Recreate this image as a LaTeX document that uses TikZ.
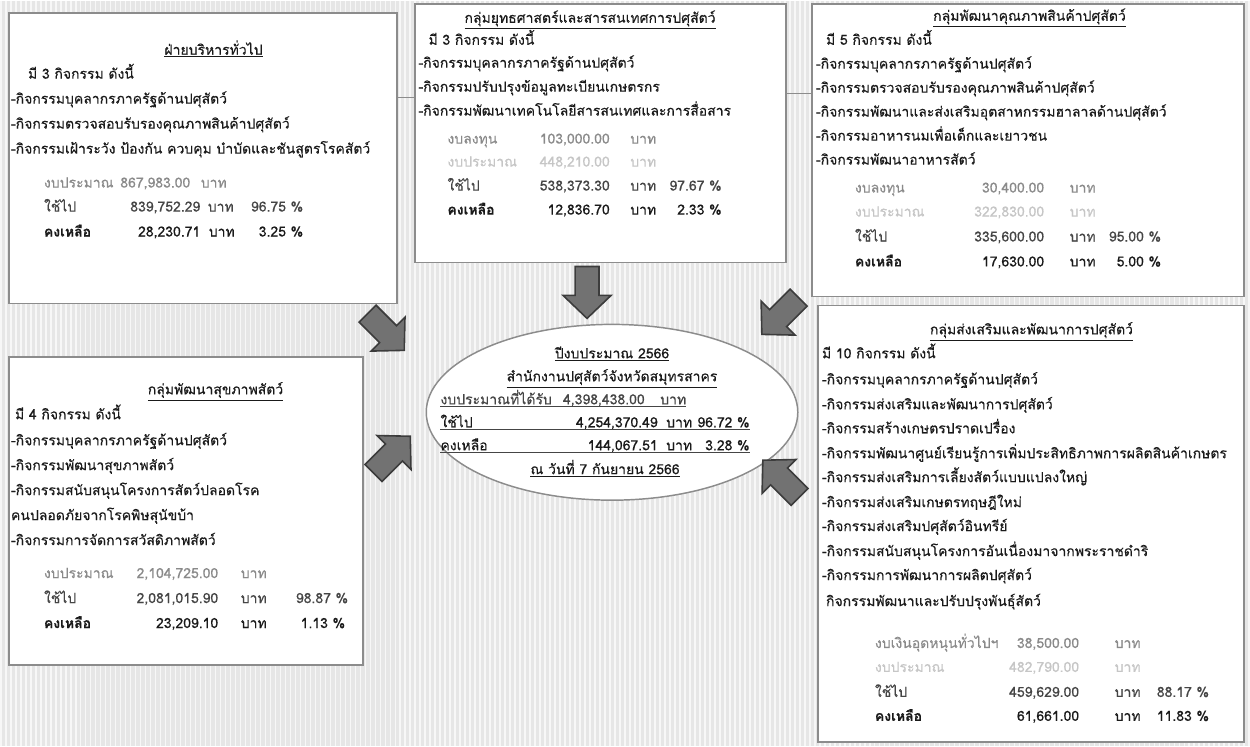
\documentclass[tikz,border=0pt]{standalone}
\usepackage{fontspec}
\setmainfont[Script=Thai,FakeBold=0.35]{Loma}
\usetikzlibrary{fit,shapes.geometric}
\definecolor{ink}{HTML}{1A1A1A}
\definecolor{midink}{HTML}{454545}
\definecolor{lightink}{HTML}{8A8A8A}
\definecolor{faint}{HTML}{C6C6C6}
\definecolor{bgc}{HTML}{E6E6E6}
\definecolor{stripec}{HTML}{F7F7F7}
\definecolor{boxline}{HTML}{8C8C8C}
\definecolor{arrowfill}{HTML}{727272}
\definecolor{arrowline}{HTML}{3C3C3C}
\newcommand\txtL[5]{\node[txt,#4] (#1) at (#2,#3) {#5};}
\newcommand\txtR[5]{\node[txtr,#4] (#1) at (#2,#3) {#5};}
\newcommand\txtC[5]{\node[txtc,#4] (#1) at (#2,#3) {#5};}
\newcommand\blockarrow[3]{%
  \begin{scope}[shift={(#1,#2)},rotate=#3]
    \draw[barrow] (0,0) -- (-23,24) -- (-23,12) -- (-52,12) -- (-52,-12) -- (-23,-12) -- (-23,-24) -- cycle;
  \end{scope}}
\begin{document}
\begin{tikzpicture}[x=0.75pt,y=-0.75pt,
  font=\fontsize{10.5}{12}\selectfont,
  panel/.style={draw=boxline,fill=white,line width=1.3pt,inner sep=0pt},
  txt/.style={anchor=base west,inner sep=0pt,text=ink},
  txtr/.style={anchor=base east,inner sep=0pt,text=ink},
  txtc/.style={anchor=base,inner sep=0pt,text=ink},
  lt/.style={text=lightink},
  md/.style={text=midink},
  fa/.style={text=faint},
  bd/.style={font=\fontsize{10.5}{12}\selectfont\bfseries},
  barrow/.style={fill=arrowfill,draw=arrowline,line width=1.2pt,line join=miter},
  link/.style={draw=boxline,line width=0.8pt},
  uline/.style={draw=midink,line width=0.5pt}]
% background
\fill[bgc] (0,0) rectangle (1250,746);
\foreach \i in {0,5,...,1250} \draw[stripec,line width=1.2pt] (\i,0) -- (\i,746);
\useasboundingbox (0,0) rectangle (1250,746);

% panels
\node[panel,fit={(8,12) (397,303)}] (box1) {};
\node[panel,fit={(415,3) (786,262)}] (box2) {};
\node[panel,fit={(812,3) (1245,296)}] (box3) {};
\node[panel,fit={(8,357) (363,665)}] (box4) {};
\node[panel,fit={(818,305) (1245,742)}] (box5) {};
\node[ellipse,draw=boxline,fill=white,line width=1.1pt,minimum width=279pt,minimum height=132pt,inner sep=0pt] (ell) at (612,412) {};
\draw[link] (box1.east |- 0,97) -- (box2.west |- 0,97);
\draw[link] (box2.east |- 0,93) -- (box3.west |- 0,93);

% box 1
\txtC{a0}{213}{54}{}{\underline{ฝ่ายบริหารทั่วไป}}
\txtL{a1}{27}{78}{}{มี 3 กิจกรรม ดังนี้}
\txtL{a2}{10}{103}{}{-กิจกรรมบุคลากรภาครัฐด้านปศุสัตว์}
\txtL{a3}{10}{128}{}{-กิจกรรมตรวจสอบรับรองคุณภาพสินค้าปศุสัตว์}
\txtL{a4}{10}{153}{}{-กิจกรรมเฝ้าระวัง ป้องกัน ควบคุม บำบัดและชันสูตรโรคสัตว์}
\txtL{a5l}{43}{187}{lt}{งบประมาณ}
\txtR{a5n}{190}{187}{lt}{867,983.00}
\txtL{a5b}{200}{187}{lt}{บาท}
\txtL{a6l}{43}{211}{md}{ใช้ไป}
\txtR{a6n}{200}{211}{md}{839,752.29}
\txtL{a6b}{207}{211}{md}{บาท}
\txtR{a6p}{303}{211}{md}{96.75 \%}
\txtL{a7l}{43}{236}{bd}{คงเหลือ}
\txtR{a7n}{200}{236}{}{28,230.71}
\txtL{a7b}{208}{236}{}{บาท}
\txtR{a7p}{303}{236}{}{3.25 \%}

% box 2
\txtC{b0}{590}{22}{}{\underline{กลุ่มยุทธศาสตร์และสารสนเทศการปศุสัตว์}}
\txtL{b1}{428}{44}{}{มี 3 กิจกรรม ดังนี้}
\txtL{b2}{418}{67}{}{-กิจกรรมบุคลากรภาครัฐด้านปศุสัตว์}
\txtL{b3}{418}{91}{}{-กิจกรรมปรับปรุงข้อมูลทะเบียนเกษตรกร}
\txtL{b4}{418}{115}{}{-กิจกรรมพัฒนาเทคโนโลยีสารสนเทศและการสื่อสาร}
\txtL{b5l}{447}{143}{lt}{งบลงทุน}
\txtR{b5n}{610}{143}{lt}{103,000.00}
\txtL{b5b}{630}{143}{lt}{บาท}
\txtL{b6l}{447}{166}{fa}{งบประมาณ}
\txtR{b6n}{610}{166}{fa}{448,210.00}
\txtL{b6b}{630}{166}{fa}{บาท}
\txtL{b7l}{447}{190}{md}{ใช้ไป}
\txtR{b7n}{610}{190}{md}{538,373.30}
\txtL{b7b}{630}{190}{md}{บาท}
\txtR{b7p}{722}{190}{md}{97.67 \%}
\txtL{b8l}{447}{214}{bd}{คงเหลือ}
\txtR{b8n}{610}{214}{}{12,836.70}
\txtL{b8b}{630}{214}{}{บาท}
\txtR{b8p}{722}{214}{}{2.33 \%}

% box 3
\txtC{c0}{1030}{20}{}{\underline{กลุ่มพัฒนาคุณภาพสินค้าปศุสัตว์}}
\txtL{c1}{826}{44}{}{มี 5 กิจกรรม ดังนี้}
\txtL{c2}{816}{68}{}{-กิจกรรมบุคลากรภาครัฐด้านปศุสัตว์}
\txtL{c3}{816}{92}{}{-กิจกรรมตรวจสอบรับรองคุณภาพสินค้าปศุสัตว์}
\txtL{c4}{816}{116}{}{-กิจกรรมพัฒนาและส่งเสริมอุตสาหกรรมฮาลาลด้านปศุสัตว์}
\txtL{c5}{816}{140}{}{-กิจกรรมอาหารนมเพื่อเด็กและเยาวชน}
\txtL{c6}{816}{164}{}{-กิจกรรมพัฒนาอาหารสัตว์}
\txtL{c7l}{855}{192}{lt}{งบลงทุน}
\txtR{c7n}{1045}{192}{lt}{30,400.00}
\txtL{c7b}{1070}{192}{lt}{บาท}
\txtL{c8l}{855}{216}{fa}{งบประมาณ}
\txtR{c8n}{1045}{216}{fa}{322,830.00}
\txtL{c8b}{1070}{216}{fa}{บาท}
\txtL{c9l}{855}{241}{md}{ใช้ไป}
\txtR{c9n}{1045}{241}{md}{335,600.00}
\txtL{c9b}{1070}{241}{md}{บาท}
\txtR{c9p}{1162}{241}{md}{95.00 \%}
\txtL{c10l}{855}{266}{bd}{คงเหลือ}
\txtR{c10n}{1045}{266}{}{17,630.00}
\txtL{c10b}{1070}{266}{}{บาท}
\txtR{c10p}{1162}{266}{}{5.00 \%}

% box 4
\txtC{d0}{215}{394}{}{\underline{กลุ่มพัฒนาสุขภาพสัตว์}}
\txtL{d1}{14}{419}{}{มี 4 กิจกรรม ดังนี้}
\txtL{d2}{10}{445}{}{-กิจกรรมบุคลากรภาครัฐด้านปศุสัตว์}
\txtL{d3}{10}{470}{}{-กิจกรรมพัฒนาสุขภาพสัตว์}
\txtL{d4}{10}{495}{}{-กิจกรรมสนับสนุนโครงการสัตว์ปลอดโรค}
\txtL{d5}{10}{520}{}{คนปลอดภัยจากโรคพิษสุนัขบ้า}
\txtL{d6}{10}{545}{}{-กิจกรรมการจัดการสวัสดิภาพสัตว์}
\txtL{d7l}{43}{578}{lt}{งบประมาณ}
\txtR{d7n}{218}{578}{lt}{2,104,725.00}
\txtL{d7b}{240}{578}{lt}{บาท}
\txtL{d8l}{43}{603}{md}{ใช้ไป}
\txtR{d8n}{218}{603}{md}{2,081,015.90}
\txtL{d8b}{240}{603}{md}{บาท}
\txtR{d8p}{348}{603}{md}{98.87 \%}
\txtL{d9l}{43}{628}{bd}{คงเหลือ}
\txtR{d9n}{218}{628}{}{23,209.10}
\txtL{d9b}{240}{628}{}{บาท}
\txtR{d9p}{345}{628}{}{1.13 \%}

% box 5
\txtC{e0}{1032}{334}{}{\underline{กลุ่มส่งเสริมและพัฒนาการปศุสัตว์}}
\txtL{e1}{822}{358}{}{มี 10 กิจกรรม ดังนี้}
\txtL{e2}{822}{384}{}{-กิจกรรมบุคลากรภาครัฐด้านปศุสัตว์}
\txtL{e3}{822}{409}{}{-กิจกรรมส่งเสริมและพัฒนาการปศุสัตว์}
\txtL{e4}{822}{433}{}{-กิจกรรมสร้างเกษตรปราดเปรื่อง}
\txtL{e5}{822}{458}{}{-กิจกรรมพัฒนาศูนย์เรียนรู้การเพิ่มประสิทธิภาพการผลิตสินค้าเกษตร}
\txtL{e6}{822}{482}{}{-กิจกรรมส่งเสริมการเลี้ยงสัตว์แบบแปลงใหญ่}
\txtL{e7}{822}{507}{}{-กิจกรรมส่งเสริมเกษตรทฤษฎีใหม่}
\txtL{e8}{822}{531}{}{-กิจกรรมส่งเสริมปศุสัตว์อินทรีย์}
\txtL{e9}{822}{556}{}{-กิจกรรมสนับสนุนโครงการอันเนื่องมาจากพระราชดำริ}
\txtL{e10}{822}{580}{}{-กิจกรรมการพัฒนาการผลิตปศุสัตว์}
\txtL{e11}{826}{606}{}{กิจกรรมพัฒนาและปรับปรุงพันธุ์สัตว์}
\txtL{e12l}{875}{648}{lt}{งบเงินอุดหนุนทั่วไปฯ}
\txtR{e12n}{1080}{648}{lt}{38,500.00}
\txtL{e12b}{1115}{648}{lt}{บาท}
\txtL{e13l}{875}{672}{fa}{งบประมาณ}
\txtR{e13n}{1080}{672}{fa}{482,790.00}
\txtL{e13b}{1115}{672}{fa}{บาท}
\txtL{e14l}{875}{697}{md}{ใช้ไป}
\txtR{e14n}{1080}{697}{md}{459,629.00}
\txtL{e14b}{1115}{697}{md}{บาท}
\txtR{e14p}{1210}{697}{md}{88.17 \%}
\txtL{e15l}{875}{721}{bd}{คงเหลือ}
\txtR{e15n}{1080}{721}{}{61,661.00}
\txtL{e15b}{1115}{721}{}{บาท}
\txtR{e15p}{1210}{721}{}{11.83 \%}

% ellipse text
\txtC{f0}{612}{358}{}{\underline{ปีงบประมาณ 2566}}
\txtC{f1}{612}{381}{}{\underline{สำนักงานปศุสัตว์จังหวัดสมุทรสาคร}}
\txtL{f2l}{440}{404}{md}{งบประมาณที่ได้รับ}
\txtR{f2n}{645}{404}{md}{4,398,438.00}
\txtL{f2b}{660}{404}{md}{บาท}
\txtL{f3l}{440}{427}{}{ใช้ไป}
\txtR{f3n}{658}{427}{}{4,254,370.49}
\txtL{f3b}{666}{427}{}{บาท}
\txtR{f3p}{750}{427}{}{96.72 \%}
\txtL{f4l}{440}{450}{}{คงเหลือ}
\txtR{f4n}{658}{450}{}{144,067.51}
\txtL{f4b}{666}{450}{}{บาท}
\txtR{f4p}{750}{450}{}{3.28 \%}
\draw[uline] ([yshift=-1.5pt]f2l.base west) -- ([yshift=-1.5pt]f2b.base east);
\draw[uline] ([yshift=-1.5pt]f3l.base west) -- ([yshift=-1.5pt]f3p.base east);
\draw[uline] ([yshift=-1.5pt]f4l.base west) -- ([yshift=-1.5pt]f4p.base east);
\txtC{f5}{605}{474}{}{\underline{ณ วันที่ 7 กันยายน 2566}}

% block arrows
\blockarrow{404}{350}{-45}
\blockarrow{587}{318}{-90}
\blockarrow{762}{334}{-135}
\blockarrow{410}{436}{45}
\blockarrow{763}{460}{135}
\end{tikzpicture}
\end{document}
